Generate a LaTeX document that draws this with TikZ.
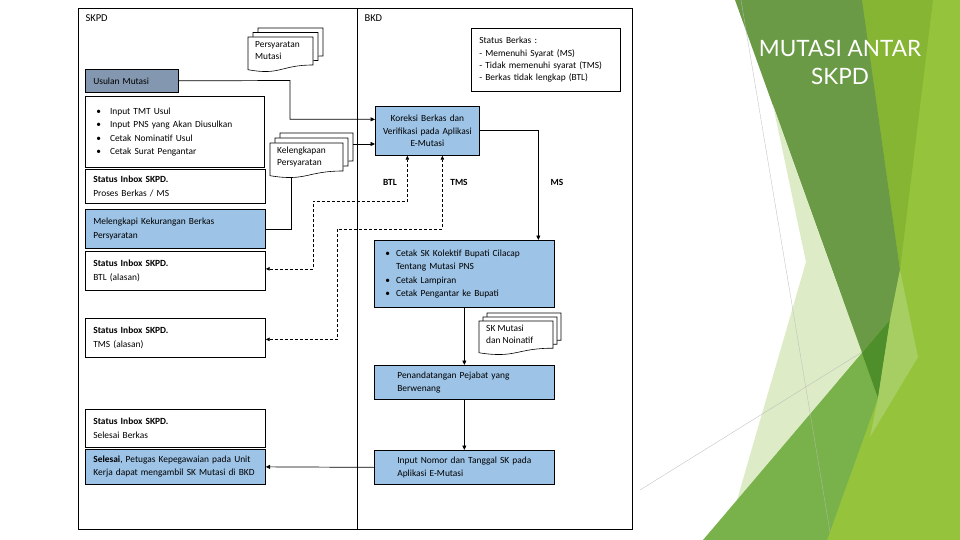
\documentclass[tikz,border=0pt]{standalone}
\usepackage{fontspec}
\setmainfont{Carlito}
\newfontfamily\titlefont{Lato}
\usetikzlibrary{arrows.meta}

\definecolor{boxblue}{HTML}{9DC3E6}
\definecolor{boxslate}{HTML}{8497B0}
\definecolor{leafbase}{HTML}{95C43C}
\definecolor{leafmid}{HTML}{86B534}
\definecolor{leafdark}{HTML}{6A9A45}
\definecolor{leafdeep}{HTML}{4E8F2B}
\definecolor{leafgreen}{HTML}{79B14B}
\definecolor{leafpale}{HTML}{DDEBC6}
\definecolor{leaflight}{HTML}{A6CE62}

\tikzset{
  lane/.style={draw, line width=0.7pt, anchor=north west, inner xsep=8pt, inner ysep=0pt,
    align=left, font=\fontsize{9.4}{13.3}\selectfont},
  flow/.style={line width=0.7pt, -{Triangle[length=4.5pt,width=4pt]}},
  dflow/.style={line width=0.7pt, dash pattern=on 3pt off 2pt,
    {Triangle[length=4pt,width=3.5pt]}-{Triangle[length=4pt,width=3.5pt]}},
  doctext/.style={anchor=north west, inner xsep=7pt, inner ysep=4pt, align=left,
    font=\fontsize{9.4}{12}\selectfont},
  tag/.style={font=\bfseries\fontsize{9.4}{11}\selectfont},
  pics/docpage/.style args={#1/#2}{code={
    \draw[fill=white, line width=0.6pt] (0,0) -- (#1,0) -- (#1,0.8*#2)
      .. controls (0.5*#1,0.8*#2) and (0.5*#1,1.107*#2) .. (0,0.934*#2) -- cycle;
  }}
}

\begin{document}
\begin{tikzpicture}[x=1pt, y=-1pt]
\useasboundingbox (0,0) rectangle (960,540);
\fill[white] (0,0) rectangle (960,540);

% Decoration on the right
\fill[leafbase] (862,0) -- (960,0) -- (960,540) -- (827,540) -- cycle;
\fill[leafmid] (862,0) -- (933,0) -- (900,270) -- cycle;
\fill[leafdark] (735,0) -- (862,0) -- (900,270) -- (890,320) -- (878,398) -- (862,353) -- cycle;
\fill[leafpale] (773,105) -- (806,262) -- (737,500) -- (862,353) -- cycle;
\fill[leafgreen] (703,540) -- (890,320) -- (878,398) -- (827,540) -- cycle;
\fill[leafdeep] (862,353) -- (890,320) -- (878,398) -- cycle;
\fill[leaflight] (900,270) -- (918,357) -- (870,437) -- (878,398) -- (890,320) -- cycle;
\draw[gray!55, line width=0.3pt] (741,0) -- (830,532);
\draw[gray!55, line width=0.3pt] (640,490) -- (862,352);

% Title
\node[font=\titlefont\fontsize{22.5}{28}\selectfont, text=white, align=center] (title) at (840,62) {MUTASI ANTAR\\SKPD};

% Lanes
\draw[line width=0.8pt] (78,8) rectangle (632,529);
\draw[line width=0.8pt] (357,8) -- (357,529);
\node[anchor=north west, font=\fontsize{10.5}{12}\selectfont] (skpd) at (82,11) {SKPD};
\node[anchor=north west, font=\fontsize{10.5}{12}\selectfont] (bkd) at (361,11) {BKD};

% SKPD side
\pic at (258,28) {docpage=65/35};
\pic at (253,32.5) {docpage=65/35};
\pic at (248,37) {docpage=65/35};
\node[doctext] (persyaratan) at (248,37) {Persyaratan\\Mutasi};

\node[lane, fill=boxslate, text width=77pt, minimum height=23pt] (usulan) at (85,69) {Usulan Mutasi};
\node[lane, text width=163pt, minimum height=71pt] (inputusul) at (85,96) {%
  \begin{tabular}{@{\hspace{3pt}}c@{\hspace{9pt}}l@{}}
  \textbullet & Input TMT Usul\\
  \textbullet & Input PNS yang Akan Diusulkan\\
  \textbullet & Cetak Nominatif Usul\\
  \textbullet & Cetak Surat Pengantar
  \end{tabular}};
\node[lane, text width=164pt, minimum height=34pt] (proses) at (85,169) {\textbf{Status Inbox SKPD.}\\Proses Berkas / MS};
\node[lane, fill=boxblue, text width=164pt, minimum height=39pt] (melengkapi) at (85,209) {Melengkapi Kekurangan Berkas\\Persyaratan};
\node[lane, text width=164pt, minimum height=39pt] (btl) at (85,251) {\textbf{Status Inbox SKPD.}\\BTL (alasan)};
\node[lane, text width=164pt, minimum height=39pt] (tms) at (85,318) {\textbf{Status Inbox SKPD.}\\TMS (alasan)};
\node[lane, text width=164pt, minimum height=38pt] (selesaiberkas) at (85,409) {\textbf{Status Inbox SKPD.}\\Selesai Berkas};
\node[lane, fill=boxblue, text width=164pt, minimum height=35pt] (selesai) at (85,449) {\textbf{Selesai}, Petugas Kepegawaian pada Unit\\Kerja dapat mengambil SK Mutasi di BKD};

\pic at (280,133) {docpage=73/35};
\pic at (275,138) {docpage=73/35};
\pic at (270,143) {docpage=73/35};
\node[doctext] (kelengkapan) at (270,143) {Kelengkapan\\Persyaratan};
\coordinate (kelbot) at (291,177.5);
\coordinate (kelout) at (353,144);

% BKD side
\node[lane, text width=133pt, minimum height=63pt, font=\fontsize{9.4}{12.3}\selectfont] (statusberkas) at (471,28) {Status Berkas :\\- Memenuhi Syarat (MS)\\- Tidak memenuhi syarat (TMS)\\- Berkas tidak lengkap (BTL)};
\node[lane, fill=boxblue, align=center, inner xsep=4pt, text width=96pt, minimum height=49pt, font=\fontsize{9.4}{12.5}\selectfont] (koreksi) at (375,106) {Koreksi Berkas dan\\Verifikasi pada Aplikasi\\E-Mutasi};
\node[lane, fill=boxblue, text width=164pt, minimum height=67pt] (cetak) at (374,240) {%
  \begin{tabular}{@{\hspace{3pt}}c@{\hspace{6pt}}l@{}}
  \textbullet & Cetak SK Kolektif Bupati Cilacap\\
   & Tentang Mutasi PNS\\
  \textbullet & Cetak Lampiran\\
  \textbullet & Cetak Pengantar ke Bupati
  \end{tabular}};

\pic at (487,313) {docpage=74/34};
\pic at (483,317) {docpage=74/34};
\pic at (479,321) {docpage=74/34};
\node[doctext] (skmutasi) at (479,321) {SK Mutasi\\dan Noinatif};

\node[lane, fill=boxblue, text width=164pt, minimum height=34pt] (penandatangan) at (374,365) {%
  \begin{tabular}{@{\hspace{15pt}}l@{}}Penandatangan Pejabat yang\\Berwenang\end{tabular}};
\node[lane, fill=boxblue, text width=164pt, minimum height=34pt] (inputnomor) at (374,450) {%
  \begin{tabular}{@{\hspace{15pt}}l@{}}Input Nomor dan Tanggal SK pada\\Aplikasi E-Mutasi\end{tabular}};

\node[tag] (lbtl) at (390,182) {BTL};
\node[tag] (ltms) at (459,182) {TMS};
\node[tag] (lms) at (557,182) {MS};

% Connectors
\draw[flow] (usulan.east) -- (290,80.5) |- ([yshift=11.5pt]koreksi.west);
\draw[line width=0.7pt] (melengkapi.east) -| (kelbot);
\draw[flow] (kelout) -- (kelout -| koreksi.west);
\draw[flow] (koreksi.east) -| ([xshift=74pt]cetak.north);
\draw[dflow] ([yshift=2pt]btl.east) -| (313,201) -| ([xshift=-20pt]koreksi.south);
\draw[dflow] ([yshift=-1.5pt]tms.east) -| (337,229) -| ([xshift=15pt]koreksi.south);
\draw[flow] (cetak.south) -- (penandatangan.north);
\draw[flow] (penandatangan.south) -- (inputnomor.north);
\draw[flow] (inputnomor.west) -- (selesai.east);
\end{tikzpicture}
\end{document}
